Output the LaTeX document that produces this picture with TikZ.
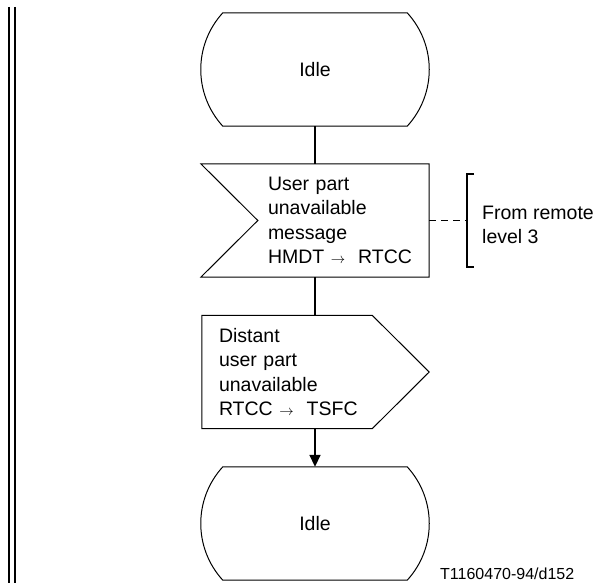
\documentclass[tikz,border=0pt]{standalone}
\usepackage{fontspec}
\setmainfont{Liberation Sans}
\usetikzlibrary{arrows.meta}

\newcommand{\sdlto}{{\fontsize{14}{14}\selectfont$\rightarrow$}}

\begin{document}
\begin{tikzpicture}[x=1pt,y=1pt]
\tikzset{
  sdltext/.style={font=\fontsize{19.5}{24.5}\selectfont,inner sep=0pt},
  statenode/.style={sdltext,minimum width=184pt,minimum height=113pt},
  signode/.style={sdltext,align=left,minimum height=113pt},
  outline/.style={line width=1pt},
  flow/.style={line width=1.7pt},
  flowarrow/.style={flow,-{Triangle[length=12pt,width=11pt]}},
  commentline/.style={line width=1.8pt,dash pattern=on 7pt off 5pt}
}
\useasboundingbox (0,0) rectangle (601,-583);
% page border
\draw[line width=2pt] (9,-7) -- (9,-583);
\draw[line width=2pt] (15,-7) -- (15,-583);

\node[statenode] (idle1) at (315,-69.5) {Idle};
\node[signode,text width=161pt] (msgin) at (348.5,-220.5) {User part\\unavailable\\message\\HMDT \sdlto\ \ RTCC};
\node[signode,text width=153pt] (msgout) at (295.5,-372) {Distant\\user part\\unavailable\\RTCC \sdlto\ \ TSFC};
\node[statenode] (idle2) at (315,-523.5) {Idle};
\node[sdltext,align=left,anchor=west] (remote) at (482,-225) {From remote\\level 3};
\coordinate (brk) at (467,-220.5);
\node[font=\fontsize{16}{18}\selectfont,anchor=base west,inner sep=0pt] (figref) at (440,-579) {T1160470-94/d152};

% state symbols
\draw[outline] (idle1.north west) -- (idle1.north east)
  .. controls +(29.4,-32.2) and +(29.4,32.2) .. (idle1.south east)
  -- (idle1.south west)
  .. controls +(-29.4,32.2) and +(-29.4,-32.2) .. (idle1.north west) -- cycle;
\draw[outline] (idle2.north west) -- (idle2.north east)
  .. controls +(29.4,-32.2) and +(29.4,32.2) .. (idle2.south east)
  -- (idle2.south west)
  .. controls +(-29.4,32.2) and +(-29.4,-32.2) .. (idle2.north west) -- cycle;
% input and output signals
\draw[outline] (msgin.north east) -- ([xshift=-67pt]msgin.north west) -- ([xshift=-10pt]msgin.west)
  -- ([xshift=-67pt]msgin.south west) -- (msgin.south east) -- cycle;
\draw[outline] ([xshift=-17pt]msgout.north west) -- (msgout.north east) -- ([xshift=57pt]msgout.east)
  -- (msgout.south east) -- ([xshift=-17pt]msgout.south west) -- cycle;

\draw[flow] (idle1.south) -- (idle1.south |- msgin.north);
\draw[flow] (idle1.south |- msgin.south) -- (idle1.south |- msgout.north);
\draw[flowarrow] (idle1.south |- msgout.south) -- (idle2.north);

% comment
\draw[commentline] (msgin.east) -- (msgin.east -| brk);
\draw[line width=2pt] ([shift={(7,46.5)}]brk) -- ++(-7,0) -- ++(0,-93) -- ++(7,0);
\end{tikzpicture}
\end{document}
